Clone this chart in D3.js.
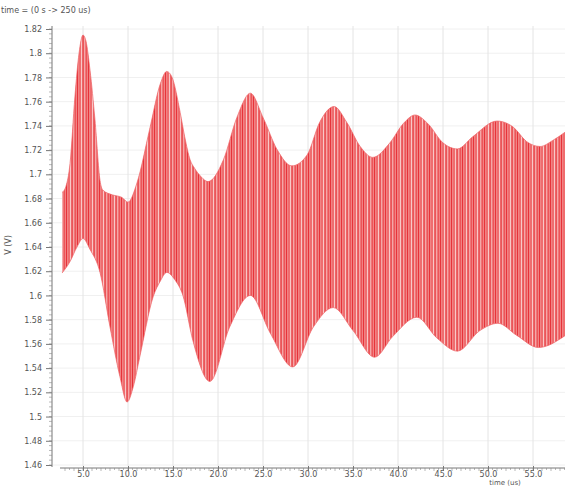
<!DOCTYPE html>
<html>
<head>
<meta charset="utf-8">
<script src="https://cdn.jsdelivr.net/npm/d3@7"></script>
<style>
  body { margin: 0; background: #fff; }
  text { font-family: 'DejaVu Sans', sans-serif; fill: #555; }
</style>
</head>
<body>
<div id="chart"></div>
<script>
// upper envelope of the ringing signal (time in us, volts)
var tUpper = [2.67, 3.1, 3.56, 4.1, 4.56, 5.0, 5.33, 5.78, 6.33, 6.89, 7.2, 8.3, 9.3, 10.0, 11.0, 12.4, 13.6, 14.3, 14.9,
  15.8, 16.3, 16.9, 17.4, 18.0, 18.9, 20.6, 22.1, 23.6, 25.0, 26.6, 28.2, 29.9, 31.3, 32.9, 34.3, 35.8, 37.2,
  39.1, 40.6, 41.9, 43.3, 45.0, 46.6, 48.3, 51.0, 52.8, 54.3, 55.8, 57.2, 58.6]
var vUpper = [1.685, 1.69, 1.709, 1.764, 1.800, 1.815, 1.81, 1.786, 1.745, 1.695, 1.687, 1.683, 1.681, 1.677, 1.693, 1.737, 1.775, 1.785, 1.78,
  1.751, 1.731, 1.712, 1.705, 1.699, 1.694, 1.712, 1.747, 1.767, 1.747, 1.720, 1.707, 1.716, 1.743, 1.756, 1.743, 1.723, 1.714,
  1.726, 1.742, 1.749, 1.742, 1.726, 1.721, 1.731, 1.744, 1.739, 1.727, 1.723, 1.728, 1.735]

// lower envelope
var tLower = [2.67, 3.56, 4.33, 5.0, 5.78, 6.89, 8.0, 9.1, 9.9, 10.6, 11.3, 12.8, 13.6, 14.3, 15.2, 16.1, 17.2, 19.1,
  21.3, 23.6, 25.8, 28.3, 30.6, 32.8, 35.0, 37.4, 39.4, 42.1, 44.3, 46.6, 49.1, 51.1, 53.2, 55.6, 58.6]
var vLower = [1.6185, 1.628, 1.64, 1.647, 1.638, 1.619, 1.574, 1.533, 1.512, 1.525, 1.549, 1.599, 1.612, 1.619, 1.613, 1.60, 1.563, 1.529,
  1.574, 1.600, 1.569, 1.541, 1.574, 1.590, 1.571, 1.549, 1.566, 1.582, 1.565, 1.554, 1.571, 1.577, 1.567, 1.557, 1.567]

var xTickValues = [5, 10, 15, 20, 25, 30, 35, 40, 45, 50, 55]
var yTickValues = [1.46, 1.48, 1.5, 1.52, 1.54, 1.56, 1.58, 1.6, 1.62, 1.64, 1.66, 1.68, 1.7, 1.72, 1.74, 1.76, 1.78, 1.8, 1.82]

var width = 565
var height = 486

var svg = d3
  .select('#chart')
  .append('svg')
  .attr('width', width)
  .attr('height', height)

var x = d3.scaleLinear().domain([0, 60]).range([38, 578])
var y = d3.scaleLinear().domain([1.46, 1.82]).range([465, 29])

// grid
svg.append('g')
  .selectAll('line')
  .data(yTickValues)
  .enter()
  .append('line')
  .attr('x1', 53).attr('x2', width)
  .attr('y1', d => y(d)).attr('y2', d => y(d))
  .attr('stroke', '#f0f0f0')
svg.append('g')
  .selectAll('line')
  .data(xTickValues)
  .enter()
  .append('line')
  .attr('x1', d => x(d)).attr('x2', d => x(d))
  .attr('y1', 26).attr('y2', 466)
  .attr('stroke', '#e4e4e4')

// stripes to look like the dense oscillation
var defs = svg.append('defs')
var pat = defs.append('pattern')
  .attr('id', 'osc')
  .attr('patternUnits', 'userSpaceOnUse')
  .attr('width', 11)
  .attr('height', 10)
pat.append('rect').attr('width', 11).attr('height', 10).attr('fill', '#f18384')
pat.append('rect').attr('x', 0).attr('width', 1).attr('height', 10).attr('fill', '#e6333a')
pat.append('rect').attr('x', 2.6).attr('width', 0.8).attr('height', 10).attr('fill', '#ec4c50')
pat.append('rect').attr('x', 4.2).attr('width', 0.7).attr('height', 10).attr('fill', '#fde6e6')
pat.append('rect').attr('x', 5.6).attr('width', 1).attr('height', 10).attr('fill', '#e6373c')
pat.append('rect').attr('x', 7.4).attr('width', 0.6).attr('height', 10).attr('fill', '#f8c0c0')
pat.append('rect').attr('x', 8.8).attr('width', 0.9).attr('height', 10).attr('fill', '#ea4146')

var upperLine = d3.line()
  .x((d, i) => x(tUpper[i]))
  .y(d => y(d))
  .curve(d3.curveMonotoneX)
var lowerLine = d3.line()
  .x((d, i) => x(tLower[i]))
  .y(d => y(d))
  .curve(d3.curveMonotoneX)

// closed shape: upper envelope left->right, lower envelope right->left
var upPath = upperLine(vUpper)
var loRev = d3.line()
  .x(d => x(d[0]))
  .y(d => y(d[1]))
  .curve(d3.curveMonotoneX)(tLower.map((t, i) => [t, vLower[i]]).reverse())

svg.append('path')
  .attr('d', upPath + 'L' + loRev.slice(1) + 'Z')
  .attr('fill', 'url(#osc)')

svg.append('path')
  .attr('d', upPath)
  .attr('fill', 'none')
  .attr('stroke', '#ee6063')
  .attr('stroke-width', 0.7)
svg.append('path')
  .attr('d', lowerLine(vLower))
  .attr('fill', 'none')
  .attr('stroke', '#ee6063')
  .attr('stroke-width', 0.7)

// y axis
var yAxis = d3.axisLeft(y)
  .tickValues(yTickValues)
  .tickFormat(d => d3.format('~g')(d))
  .tickSize(6)
var yg = svg.append('g')
  .attr('transform', 'translate(52,0)')
  .call(yAxis)
yg.select('.domain').attr('stroke', '#777').attr('d', 'M0,26V467')
yg.selectAll('.tick line').attr('stroke', '#777')
yg.selectAll('.tick text').attr('font-size', 8).attr('x', -10)
svg.append('g')
  .selectAll('line')
  .data(d3.range(1460, 1822, 4).map(d => d / 1000))
  .enter()
  .append('line')
  .attr('x1', 49).attr('x2', 52)
  .attr('y1', d => y(d)).attr('y2', d => y(d))
  .attr('stroke', '#888')
  .attr('stroke-width', 0.6)

// x axis
var xAxis = d3.axisBottom(x)
  .tickValues(xTickValues)
  .tickFormat(d3.format('.1f'))
  .tickSize(5)
var xg = svg.append('g')
  .attr('transform', 'translate(0,468)')
  .call(xAxis)
xg.select('.domain').attr('stroke', '#777').attr('d', 'M60,0H565')
xg.selectAll('.tick line').attr('stroke', '#777').attr('y1', -2).attr('y2', 3)
xg.selectAll('.tick text').attr('font-size', 8).attr('y', 3)
svg.append('g')
  .selectAll('line')
  .data(d3.range(3, 59, 0.5))
  .enter()
  .append('line')
  .attr('x1', d => x(d)).attr('x2', d => x(d))
  .attr('y1', 468).attr('y2', d => (d % 1 === 0 ? 471 : 470))
  .attr('stroke', '#888')
  .attr('stroke-width', 0.6)

// labels
svg.append('text')
  .attr('x', 1)
  .attr('y', 13)
  .attr('font-size', 8)
  .text('time = (0 s -> 250 us)')

svg.append('text')
  .attr('transform', 'translate(11,245) rotate(-90)')
  .attr('text-anchor', 'middle')
  .attr('font-size', 8)
  .text('V (V)')

svg.append('text')
  .attr('x', 505)
  .attr('y', 484.5)
  .attr('text-anchor', 'middle')
  .attr('font-size', 7)
  .text('time (us)')
</script>
</body>
</html>
